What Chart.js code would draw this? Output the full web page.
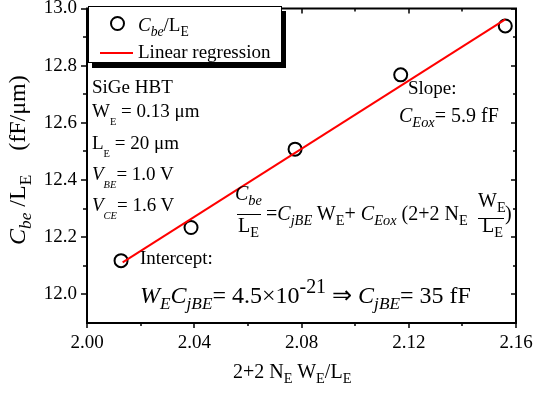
<!DOCTYPE html>
<html lang="en">
<head>
<meta charset="UTF-8">
<title>Cbe/LE vs 2+2 NE WE/LE</title>
<script src="https://cdn.jsdelivr.net/npm/chart.js"></script>
<style>
  * { box-sizing: border-box; }
  body { margin: 0; background: #fff; color: #000;
         font-family: 'Liberation Serif', 'Times New Roman', serif; }
  .wrap { position: relative; width: 535px; height: 395px; overflow: hidden; }
  canvas { position: absolute; left: 0; top: 0; }
  .t { position: absolute; white-space: nowrap; line-height: 1; font-size: 19px; }
  .sb { position: relative; font-size: .55em; top: .75em; }
  .sm { position: relative; font-size: .72em; top: .35em; }
  .sp { position: relative; font-size: .83em; top: -.5em; }
  .legend { position: absolute; left: 88px; top: 6px; width: 194px; height: 57px;
            background: #fff; border: 1.5px solid #000; box-shadow: 4px 5px 0 #000; }
  .mark { position: absolute; left: 110px; top: 16px; width: 15px; height: 15px;
          border: 2px solid #000; border-radius: 50%; }
  .redline { position: absolute; left: 100px; top: 52px; width: 33px; height: 2px; background: #f00; }
  .bar { position: absolute; height: 1px; background: #000; }
  .ytitle { position: absolute; left: 5px; top: 245px; white-space: nowrap; line-height: 1;
            font-size: 24px; transform-origin: left top; transform: rotate(-90deg); }
</style>
</head>
<body>
<div class="wrap">
  <canvas id="chart" width="535" height="395"></canvas>

  <div class="legend"></div>
  <div class="mark"></div>
  <div class="redline"></div>
  <div class="t" style="left:138px;top:15px;"><i>C<span class="sm">be</span></i>/L<span class="sm">E</span></div>
  <div class="t" style="left:138px;top:42px;">Linear regression</div>

  <div class="t" style="left:92px;top:77px;">SiGe HBT</div>
  <div class="t" style="left:92px;top:101px;">W<span class="sb">E</span> = 0.13 μm</div>
  <div class="t" style="left:92px;top:133px;">L<span class="sb">E</span> = 20 μm</div>
  <div class="t" style="left:92px;top:164px;"><i>V<span class="sb">BE</span></i>= 1.0 V</div>
  <div class="t" style="left:92px;top:195px;"><i>V<span class="sb">CE</span></i>= 1.6 V</div>

  <div class="t" style="left:408px;top:78px;">Slope:</div>
  <div class="t" style="left:399px;top:105px;font-size:20px;"><i>C<span class="sm">Eox</span></i>= 5.9 fF</div>

  <div class="t" style="left:235px;top:183px;font-size:20px;"><i>C<span class="sm">be</span></i></div>
  <div class="bar" style="left:237px;top:214px;width:24px;"></div>
  <div class="t" style="left:238px;top:215px;font-size:20px;">L<span class="sm">E</span></div>
  <div class="t" style="left:266px;top:203px;font-size:20px;">=<i>C<span class="sm">jBE</span></i> W<span class="sm">E</span>+ <i>C<span class="sm">Eox</span></i> (2+2 N<span class="sm">E</span></div>
  <div class="t" style="left:478px;top:190px;font-size:20px;">W<span class="sm">E</span></div>
  <div class="bar" style="left:478px;top:218px;width:26px;"></div>
  <div class="t" style="left:482px;top:215px;font-size:20px;">L<span class="sm">E</span></div>
  <div class="t" style="left:505px;top:203px;font-size:20px;">)</div>

  <div class="t" style="left:140px;top:248px;">Intercept:</div>
  <div class="t" style="left:140px;top:283px;font-size:24px;"><i>W<span class="sm">E</span>C<span class="sm">jBE</span></i>= 4.5×10<span class="sp">-21</span> ⇒ <i>C<span class="sm">jBE</span></i>= 35 fF</div>

  <div class="t" style="left:233px;top:361px;font-size:20px;">2+2 N<span class="sm">E</span> W<span class="sm">E</span>/L<span class="sm">E</span></div>
  <div class="ytitle"><i>C<span class="sm">be</span></i> /L<span class="sm">E</span>&nbsp;&nbsp;&nbsp;&nbsp;(fF/μm)</div>
</div>

<script>
  // measured points
  const xValues = [2.0127, 2.0388, 2.0776, 2.1170, 2.1560];
  const cbeValues = [12.118, 12.234, 12.508, 12.768, 12.939];
  // regression line end points
  const fitX = [2.0133, 2.1560];
  const fitY = [12.112, 12.962];

  const xRange = [2.00, 2.16];
  const yRange = [11.9, 13.0];
  const xTicks = [2.00, 2.04, 2.08, 2.12, 2.16];
  const xMinorTicks = [2.02, 2.06, 2.10, 2.14];
  const yTicks = [12.0, 12.2, 12.4, 12.6, 12.8, 13.0];
  const yMinorTicks = [12.1, 12.3, 12.5, 12.7, 12.9];

  const tickFont = { family: "'Liberation Serif', 'Times New Roman', serif", size: 19 };

  const frameAndTicks = {
    id: 'frameAndTicks',
    beforeDatasetsDraw(chart) {
      const { ctx, chartArea: a, scales: { x, y } } = chart;
      ctx.save();
      ctx.strokeStyle = '#000';
      ctx.lineWidth = 2;
      ctx.strokeRect(a.left, a.top, a.right - a.left, a.bottom - a.top);
      ctx.lineWidth = 1.5;
      ctx.beginPath();
      const xt = (v, len) => {
        const px = Math.round(x.getPixelForValue(v));
        ctx.moveTo(px, a.bottom); ctx.lineTo(px, a.bottom + len);
        ctx.moveTo(px, a.top); ctx.lineTo(px, a.top + len);
      };
      const yt = (v, len) => {
        const py = Math.round(y.getPixelForValue(v));
        ctx.moveTo(a.left - len - 1, py); ctx.lineTo(a.left, py);
        ctx.moveTo(a.right - len, py); ctx.lineTo(a.right, py);
      };
      xTicks.forEach(v => xt(v, 5));
      xMinorTicks.forEach(v => xt(v, 3));
      yTicks.forEach(v => yt(v, 5));
      yMinorTicks.forEach(v => yt(v, 3));
      ctx.stroke();
      ctx.restore();
    }
  };

  new Chart(document.getElementById('chart'), {
    type: 'scatter',
    data: {
      datasets: [
        {
          label: 'Linear regression',
          data: fitX.map((v, i) => ({ x: v, y: fitY[i] })),
          showLine: true,
          borderColor: '#ff0000',
          borderWidth: 2,
          pointRadius: 0,
          order: 0
        },
        {
          label: 'Cbe/LE',
          data: xValues.map((v, i) => ({ x: v, y: cbeValues[i] })),
          pointStyle: 'circle',
          pointRadius: 6.5,
          borderWidth: 2,
          borderColor: '#000',
          backgroundColor: 'rgba(0,0,0,0)',
          order: 1
        }
      ]
    },
    options: {
      responsive: false,
      animation: false,
      devicePixelRatio: 1,
      layout: { padding: { left: 0, right: 19, top: 6, bottom: 0 } },
      plugins: { legend: { display: false }, tooltip: { enabled: false } },
      scales: {
        x: {
          type: 'linear', min: xRange[0], max: xRange[1],
          grid: { display: false, drawTicks: false },
          border: { display: false },
          afterBuildTicks: s => { s.ticks = xTicks.map(v => ({ value: v })); },
          afterFit: s => { s.height = 72; s.paddingLeft = 0; s.paddingRight = 0; },
          ticks: { color: '#000', font: tickFont, padding: 9, maxRotation: 0,
                   callback: v => v.toFixed(2) }
        },
        y: {
          type: 'linear', min: yRange[0], max: yRange[1],
          grid: { display: false, drawTicks: false },
          border: { display: false },
          afterBuildTicks: s => { s.ticks = yTicks.map(v => ({ value: v })); },
          afterFit: s => { s.width = 87; s.paddingTop = 0; s.paddingBottom = 0; },
          ticks: { color: '#000', font: tickFont, padding: 10,
                   callback: v => v.toFixed(1) }
        }
      }
    },
    plugins: [frameAndTicks]
  });
</script>
</body>
</html>
